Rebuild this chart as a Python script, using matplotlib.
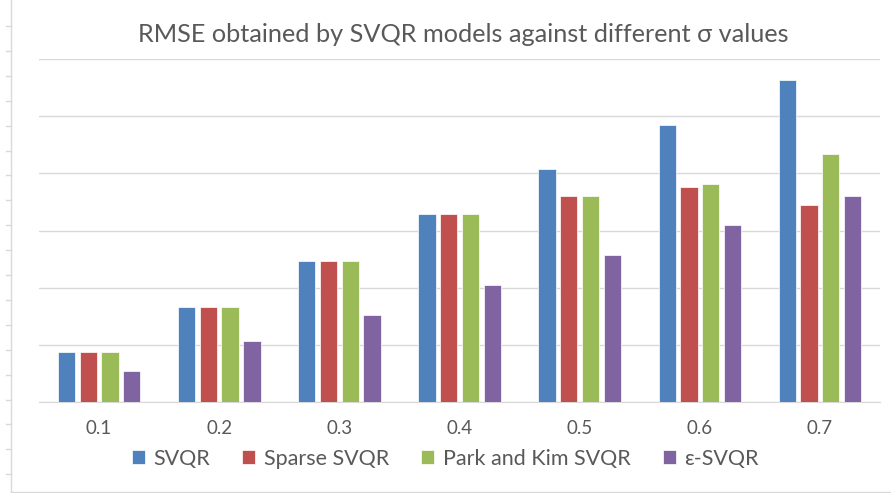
import numpy as np
import matplotlib.pyplot as plt
from matplotlib.lines import Line2D

plt.rcParams['font.family'] = ['Lato', 'DejaVu Sans']

sigmas = ['0.1', '0.2', '0.3', '0.4', '0.5', '0.6', '0.7']
svqr = [0.87, 1.66, 2.47, 3.28, 4.07, 4.84, 5.64]
sparse_svqr = [0.87, 1.66, 2.47, 3.28, 3.60, 3.76, 3.45]
park_kim_svqr = [0.87, 1.66, 2.47, 3.28, 3.61, 3.81, 4.34]
eps_svqr = [0.54, 1.07, 1.53, 2.05, 2.57, 3.10, 3.61]

series = [svqr, sparse_svqr, park_kim_svqr, eps_svqr]
names = ['SVQR', 'Sparse SVQR', 'Park and Kim SVQR', 'ε-SVQR']
colors = ['#4F81BD', '#C0504D', '#9BBB59', '#8064A2']

fig = plt.figure(figsize=(8.91, 4.93), dpi=100)
ax = fig.add_axes([0.0438, 0.1846, 0.9439, 0.6957])

x = np.arange(len(sigmas))
pitch = 0.181
width = 0.144
for i, (vals, name, c) in enumerate(zip(series, names, colors)):
    ax.bar(x + (i - 1.5) * pitch, vals, width, color=c, label=name,
           edgecolor='white', linewidth=0.5, zorder=3)

ax.set_xlim(-0.5, len(sigmas) - 0.5)
ax.set_ylim(0, 6)
ax.set_yticks(np.arange(0, 7, 1))
ax.yaxis.grid(True, color='#d9d9d9', linewidth=1)
ax.tick_params(axis='y', left=False, labelleft=False)
ax.tick_params(axis='x', length=0, pad=13, labelsize=13.5, labelcolor='#595959')
ax.set_xticks(x)
ax.set_xticklabels(sigmas)
for s in ['top', 'right', 'left']:
    ax.spines[s].set_visible(False)
ax.spines['bottom'].set_color('#d9d9d9')

fig.text(0.52, 0.93, 'RMSE obtained by SVQR models against different σ values',
         ha='center', va='center', fontsize=18.2, color='#595959')

ax.legend(loc='center', bbox_to_anchor=(0.483, -0.165), ncol=4, frameon=False,
          fontsize=15.5, labelcolor='#595959', handlelength=0.6, handleheight=0.6,
          handletextpad=0.4, columnspacing=1.5)

# screenshot frame remnants
fig.add_artist(Line2D([11 / 891, 11 / 891], [0, 1], color='#d9d9d9', lw=1))
fig.add_artist(Line2D([11 / 891, 1], [1.5 / 493, 1.5 / 493], color='#d9d9d9', lw=1))
for yy in np.arange(26, 480, 24.9):
    fig.add_artist(Line2D([6 / 891, 11 / 891], [1 - yy / 493, 1 - yy / 493],
                          color='#d9d9d9', lw=1))

fig.savefig('out.png', dpi=100)
